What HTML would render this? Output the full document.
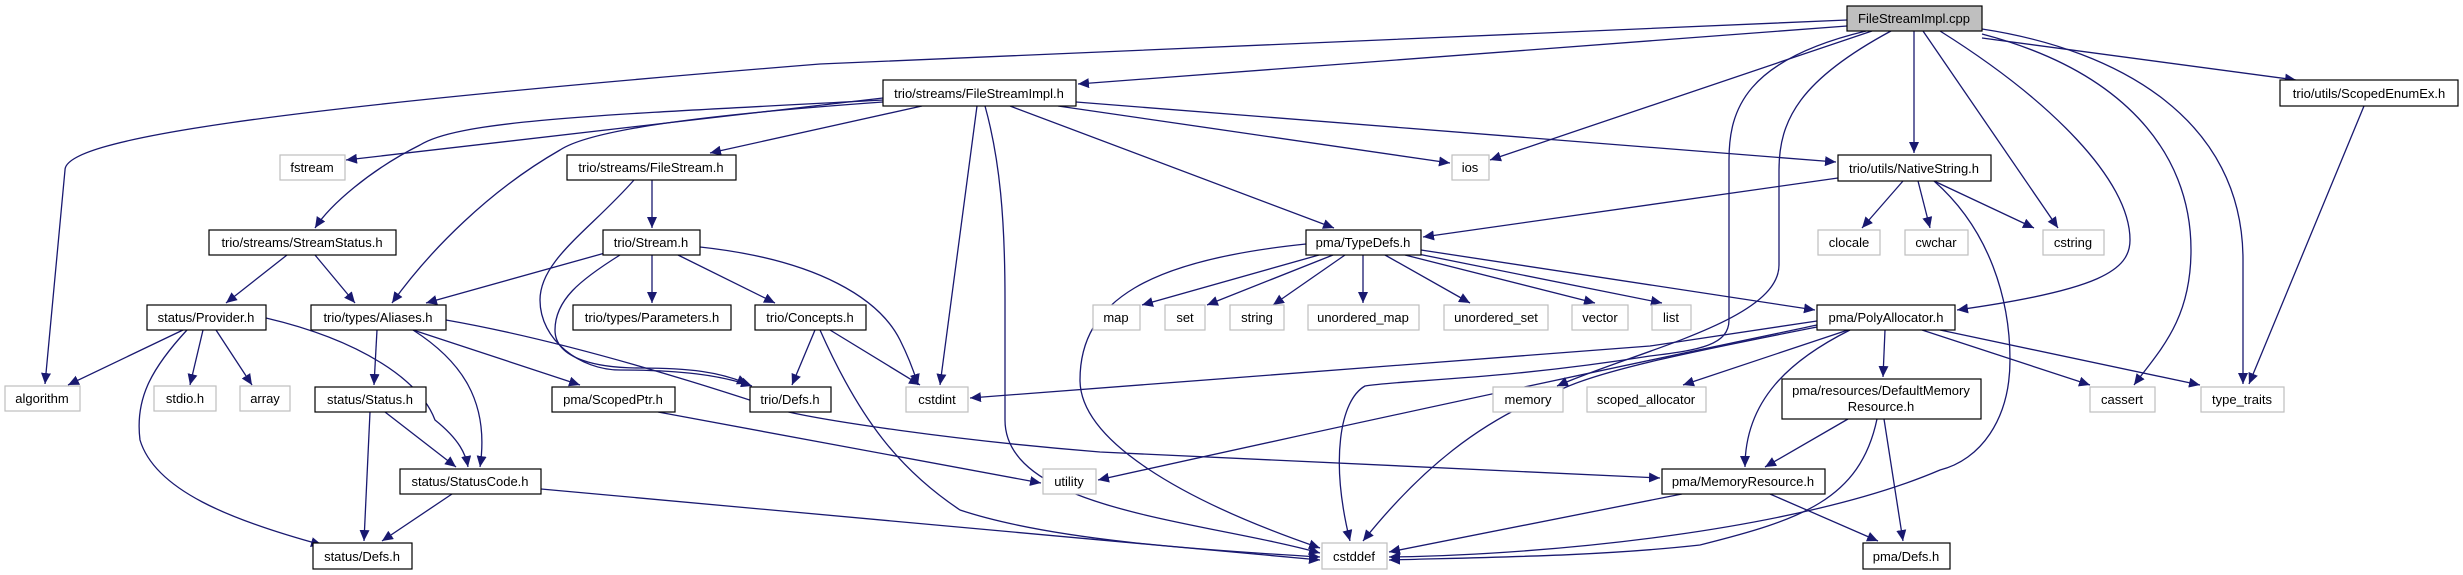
<!DOCTYPE html>
<html><head><meta charset="utf-8"><style>
html,body{margin:0;padding:0;background:#fff;width:2463px;height:575px;overflow:hidden}
svg{display:block}
text{font-family:"Liberation Sans",sans-serif;font-size:13px;fill:#000;text-anchor:middle}
.e{fill:none;stroke:#191970;stroke-width:1.3;marker-end:url(#a)}
.n{fill:#fff;stroke:#000;stroke-width:1.2}
.g{fill:#fff;stroke:#bfbfbf;stroke-width:1.2}
</style></head><body>
<svg width="2463" height="575" viewBox="0 0 2463 575" xmlns="http://www.w3.org/2000/svg">
<defs><marker id="a" markerUnits="userSpaceOnUse" markerWidth="12" markerHeight="10" refX="11" refY="5" orient="auto"><path d="M0,0 L11,5 L0,10 Z" fill="#191970"/></marker></defs>
<!-- root edges -->
<path class="e" d="M1847,20 L820,64 C250,110 65,140 65,170 L45,384"/>
<path class="e" d="M1847,26 L1078,84"/>
<path class="e" d="M1872,31 L1490,160"/>
<path class="e" d="M1866,31 C1745,60 1729,110 1729,160 L1729,320 C1729,345 1700,350 1650,356 C1500,380 1400,380 1365,386 C1340,400 1330,460 1350,541"/>
<path class="e" d="M1891,31 C1800,80 1779,120 1779,170 L1779,265 C1779,320 1640,350 1557,386"/>
<path class="e" d="M1914,31 L1914,153"/>
<path class="e" d="M1923,31 L2058,228"/>
<path class="e" d="M1940,31 C2050,100 2130,180 2130,240 C2130,270 2100,290 1957,310"/>
<path class="e" d="M1982,34 C2120,70 2191,150 2191,250 C2191,320 2160,350 2134,385"/>
<path class="e" d="M1982,29 C2120,50 2243,120 2243,260 L2243,384"/>
<path class="e" d="M1982,38 L2296,80"/>
<path class="e" d="M2364,106 L2249,384"/>
<!-- FileStreamImpl.h -->
<path class="e" d="M883,98 L346,160"/>
<path class="e" d="M883,100 C600,115 460,120 420,145 C370,170 330,205 315,228"/>
<path class="e" d="M883,102 C700,115 590,130 560,150 C490,190 430,250 392,303"/>
<path class="e" d="M922,106 L710,153"/>
<path class="e" d="M977,106 L940,385"/>
<path class="e" d="M985,106 C1000,160 1005,220 1005,300 L1005,420 C1005,510 1200,520 1320,553"/>
<path class="e" d="M1010,106 L1334,228"/>
<path class="e" d="M1058,106 L1450,163"/>
<path class="e" d="M1076,102 L1836,162"/>
<!-- FileStream.h -->
<path class="e" d="M652,180 L652,228"/>
<path class="e" d="M634,180 C590,230 540,260 540,300 C540,340 580,370 620,370 C680,370 720,375 752,386"/>
<!-- Stream.h -->
<path class="e" d="M605,253 L426,303"/>
<path class="e" d="M620,255 C580,280 555,300 555,330 C555,360 600,368 640,368 C690,368 720,372 748,384"/>
<path class="e" d="M652,255 L652,303"/>
<path class="e" d="M678,255 L775,303"/>
<path class="e" d="M700,247 C820,260 880,300 900,340 C910,360 915,375 918,385"/>
<!-- StreamStatus -->
<path class="e" d="M287,255 L226,303"/>
<path class="e" d="M315,255 L355,303"/>
<!-- Provider -->
<path class="e" d="M183,330 L68,385"/>
<path class="e" d="M203,330 L190,385"/>
<path class="e" d="M216,330 L252,385"/>
<path class="e" d="M266,318 C360,340 420,380 435,420 C460,440 466,455 468,467"/>
<path class="e" d="M187,330 C150,370 135,400 140,440 C155,490 230,520 322,545"/>
<!-- Aliases -->
<path class="e" d="M377,330 L374,385"/>
<path class="e" d="M413,330 C460,360 490,400 480,467"/>
<path class="e" d="M413,330 L580,385"/>
<path class="e" d="M446,320 C560,340 690,380 780,410 C820,420 950,440 1100,452 L1660,478"/>
<!-- Status.h -->
<path class="e" d="M370,412 L364,541"/>
<path class="e" d="M385,412 L456,467"/>
<!-- StatusCode -->
<path class="e" d="M452,494 L382,541"/>
<path class="e" d="M541,489 L1320,560"/>
<!-- ScopedPtr -->
<path class="e" d="M658,412 L1041,483"/>
<!-- Concepts -->
<path class="e" d="M815,330 L792,385"/>
<path class="e" d="M830,330 L920,385"/>
<path class="e" d="M820,330 C860,420 900,470 960,510 C1050,540 1200,550 1320,557"/>
<!-- TypeDefs -->
<path class="e" d="M1306,244 C1150,260 1080,300 1080,380 C1080,440 1180,500 1320,548"/>
<path class="e" d="M1319,255 L1142,305"/>
<path class="e" d="M1333,255 L1207,305"/>
<path class="e" d="M1345,255 L1273,305"/>
<path class="e" d="M1363,255 L1363,303"/>
<path class="e" d="M1385,255 L1470,303"/>
<path class="e" d="M1405,255 L1595,303"/>
<path class="e" d="M1413,253 L1662,303"/>
<path class="e" d="M1421,250 L1815,310"/>
<!-- NativeString -->
<path class="e" d="M1838,178 L1423,237"/>
<path class="e" d="M1903,181 L1862,228"/>
<path class="e" d="M1918,181 L1930,228"/>
<path class="e" d="M1934,181 L2034,228"/>
<path class="e" d="M1934,181 C1990,230 2010,300 2010,360 C2010,420 1980,460 1940,470 C1800,530 1550,555 1389,557"/>
<!-- PolyAllocator -->
<path class="e" d="M1817,321 L1650,346 L970,398"/>
<path class="e" d="M1817,325 C1700,350 1550,380 1098,480"/>
<path class="e" d="M1817,327 C1700,350 1600,370 1560,390 C1480,420 1420,470 1363,541"/>
<path class="e" d="M1848,330 L1683,385"/>
<path class="e" d="M1850,330 C1790,360 1745,400 1745,467"/>
<path class="e" d="M1885,330 L1883,377"/>
<path class="e" d="M1922,330 L2090,385"/>
<path class="e" d="M1940,330 L2200,385"/>
<!-- DefaultMemoryResource -->
<path class="e" d="M1848,419 L1765,467"/>
<path class="e" d="M1884,419 L1903,541"/>
<path class="e" d="M1877,419 C1860,500 1800,520 1700,545 C1600,556 1500,557 1389,560"/>
<!-- MemoryResource -->
<path class="e" d="M1770,494 L1878,541"/>
<path class="e" d="M1682,494 L1389,552"/>
<!-- nodes -->
<rect x="1847" y="6" width="135" height="25" fill="#bfbfbf" stroke="#000" stroke-width="1.2"/><text x="1914" y="23">FileStreamImpl.cpp</text>
<rect class="n" x="883" y="80" width="193" height="26"/><text x="979" y="98">trio/streams/FileStreamImpl.h</text>
<rect class="n" x="2280" y="80" width="178" height="26"/><text x="2369" y="98">trio/utils/ScopedEnumEx.h</text>
<rect class="g" x="280" y="155" width="65" height="25"/><text x="312" y="172">fstream</text>
<rect class="n" x="567" y="155" width="169" height="25"/><text x="651" y="172">trio/streams/FileStream.h</text>
<rect class="g" x="1452" y="155" width="37" height="25"/><text x="1470" y="172">ios</text>
<rect class="n" x="1838" y="155" width="153" height="26"/><text x="1914" y="173">trio/utils/NativeString.h</text>
<rect class="n" x="209" y="230" width="187" height="25"/><text x="302" y="247">trio/streams/StreamStatus.h</text>
<rect class="n" x="603" y="230" width="97" height="25"/><text x="651" y="247">trio/Stream.h</text>
<rect class="n" x="1306" y="230" width="115" height="25"/><text x="1363" y="247">pma/TypeDefs.h</text>
<rect class="g" x="1818" y="230" width="62" height="25"/><text x="1849" y="247">clocale</text>
<rect class="g" x="1905" y="230" width="63" height="25"/><text x="1936" y="247">cwchar</text>
<rect class="g" x="2043" y="230" width="61" height="25"/><text x="2073" y="247">cstring</text>
<rect class="n" x="147" y="305" width="119" height="25"/><text x="206" y="322">status/Provider.h</text>
<rect class="n" x="311" y="305" width="135" height="25"/><text x="378" y="322">trio/types/Aliases.h</text>
<rect class="n" x="573" y="305" width="158" height="25"/><text x="652" y="322">trio/types/Parameters.h</text>
<rect class="n" x="755" y="305" width="111" height="25"/><text x="810" y="322">trio/Concepts.h</text>
<rect class="g" x="1093" y="305" width="47" height="25"/><text x="1116" y="322">map</text>
<rect class="g" x="1165" y="305" width="40" height="25"/><text x="1185" y="322">set</text>
<rect class="g" x="1230" y="305" width="54" height="25"/><text x="1257" y="322">string</text>
<rect class="g" x="1308" y="305" width="111" height="25"/><text x="1363" y="322">unordered_map</text>
<rect class="g" x="1444" y="305" width="104" height="25"/><text x="1496" y="322">unordered_set</text>
<rect class="g" x="1572" y="305" width="56" height="25"/><text x="1600" y="322">vector</text>
<rect class="g" x="1652" y="305" width="39" height="25"/><text x="1671" y="322">list</text>
<rect class="n" x="1817" y="305" width="138" height="25"/><text x="1886" y="322">pma/PolyAllocator.h</text>
<rect class="g" x="5" y="386" width="75" height="25"/><text x="42" y="403">algorithm</text>
<rect class="g" x="154" y="386" width="62" height="25"/><text x="185" y="403">stdio.h</text>
<rect class="g" x="240" y="386" width="50" height="25"/><text x="265" y="403">array</text>
<rect class="n" x="315" y="387" width="111" height="25"/><text x="370" y="404">status/Status.h</text>
<rect class="n" x="552" y="387" width="123" height="25"/><text x="613" y="404">pma/ScopedPtr.h</text>
<rect class="n" x="750" y="387" width="81" height="25"/><text x="790" y="404">trio/Defs.h</text>
<rect class="g" x="906" y="387" width="62" height="25"/><text x="937" y="404">cstdint</text>
<rect class="g" x="1493" y="387" width="70" height="25"/><text x="1528" y="404">memory</text>
<rect class="g" x="1587" y="387" width="119" height="25"/><text x="1646" y="404">scoped_allocator</text>
<rect class="n" x="1782" y="379" width="199" height="40"/><text x="1881" y="395">pma/resources/DefaultMemory</text><text x="1881" y="411">Resource.h</text>
<rect class="g" x="2090" y="387" width="65" height="25"/><text x="2122" y="404">cassert</text>
<rect class="g" x="2201" y="387" width="83" height="25"/><text x="2242" y="404">type_traits</text>
<rect class="n" x="400" y="469" width="141" height="25"/><text x="470" y="486">status/StatusCode.h</text>
<rect class="g" x="1043" y="469" width="53" height="25"/><text x="1069" y="486">utility</text>
<rect class="n" x="1662" y="469" width="163" height="25"/><text x="1743" y="486">pma/MemoryResource.h</text>
<rect class="n" x="313" y="543" width="99" height="26"/><text x="362" y="561">status/Defs.h</text>
<rect class="g" x="1322" y="543" width="65" height="26"/><text x="1354" y="561">cstddef</text>
<rect class="n" x="1863" y="543" width="87" height="26"/><text x="1906" y="561">pma/Defs.h</text>
</svg>
</body></html>
